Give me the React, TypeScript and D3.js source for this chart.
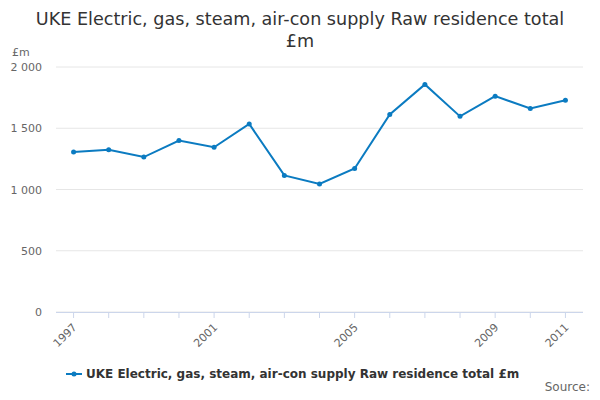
import * as d3 from "d3";

const years = [1997, 1998, 1999, 2000, 2001, 2002, 2003, 2004, 2005, 2006, 2007, 2008, 2009, 2010, 2011];
const values = [1306, 1325, 1265, 1400, 1345, 1535, 1115, 1045, 1172, 1612, 1858, 1597, 1762, 1662, 1728];
const yTicks = [0, 500, 1000, 1500, 2000];
const xLabels = [1997, 2001, 2005, 2009, 2011];
const title = ["UKE Electric, gas, steam, air-con supply Raw residence total", "£m"];
const seriesName = "UKE Electric, gas, steam, air-con supply Raw residence total £m";

export default function App() {
  const width = 600;
  const height = 400;
  const margin = { top: 67, right: 17, bottom: 88, left: 56 };
  const color = "#0b7bc1";
  const font = "'DejaVu Sans', sans-serif";

  const x = d3.scaleLinear().domain([1996.5, 2011.5]).range([margin.left, width - margin.right]);
  const y = d3.scaleLinear().domain([0, 2000]).range([height - margin.bottom, margin.top]);
  const line = d3.line<number>().x((_, i) => x(years[i])).y((d) => y(d));
  const fmt = (v: number) => d3.format(",")(v).replace(",", " ");

  return (
    <svg width={width} height={height} style={{ display: "block", margin: -8 }} fontFamily={font}>
      <rect width={width} height={height} fill="#fff" />
      {title.map((t, i) => (
        <text key={i} x={width / 2} y={25 + i * 22} textAnchor="middle" fontSize={17.6} fill="#333">
          {t}
        </text>
      ))}
      <text x={12} y={56} fontSize={11} fill="#666">£m</text>
      {yTicks.map((t) => (
        <g key={t}>
          <line x1={margin.left} x2={width - margin.right} y1={y(t)} y2={y(t)} stroke="#e6e6e6" />
          <text x={margin.left - 14} y={y(t) + 4} textAnchor="end" fontSize={11} fill="#666">
            {fmt(t)}
          </text>
        </g>
      ))}
      <line x1={margin.left} x2={width - margin.right} y1={y(0) + 0.5} y2={y(0) + 0.5} stroke="#ccd6eb" />
      {years.map((yr) => (
        <line key={yr} x1={x(yr)} x2={x(yr)} y1={y(0)} y2={y(0) + 6} stroke="#ccd6eb" />
      ))}
      {xLabels.map((yr) => (
        <text key={yr} transform={`translate(${x(yr) + 4},${y(0) + 16}) rotate(-45)`} textAnchor="end" fontSize={11} fill="#666">
          {yr}
        </text>
      ))}
      <path d={line(values) ?? ""} fill="none" stroke={color} strokeWidth={2} />
      {values.map((v, i) => (
        <circle key={i} cx={x(years[i])} cy={y(v)} r={2.5} fill={color} />
      ))}
      <line x1={66} x2={82} y1={374} y2={374} stroke={color} strokeWidth={2} />
      <circle cx={74} cy={374} r={2.5} fill={color} />
      <text x={86} y={378} fontSize={12} fontWeight="bold" fill="#333">{seriesName}</text>
      <text x={590} y={391} textAnchor="end" fontSize={12} fill="#666">Source:</text>
    </svg>
  );
}
